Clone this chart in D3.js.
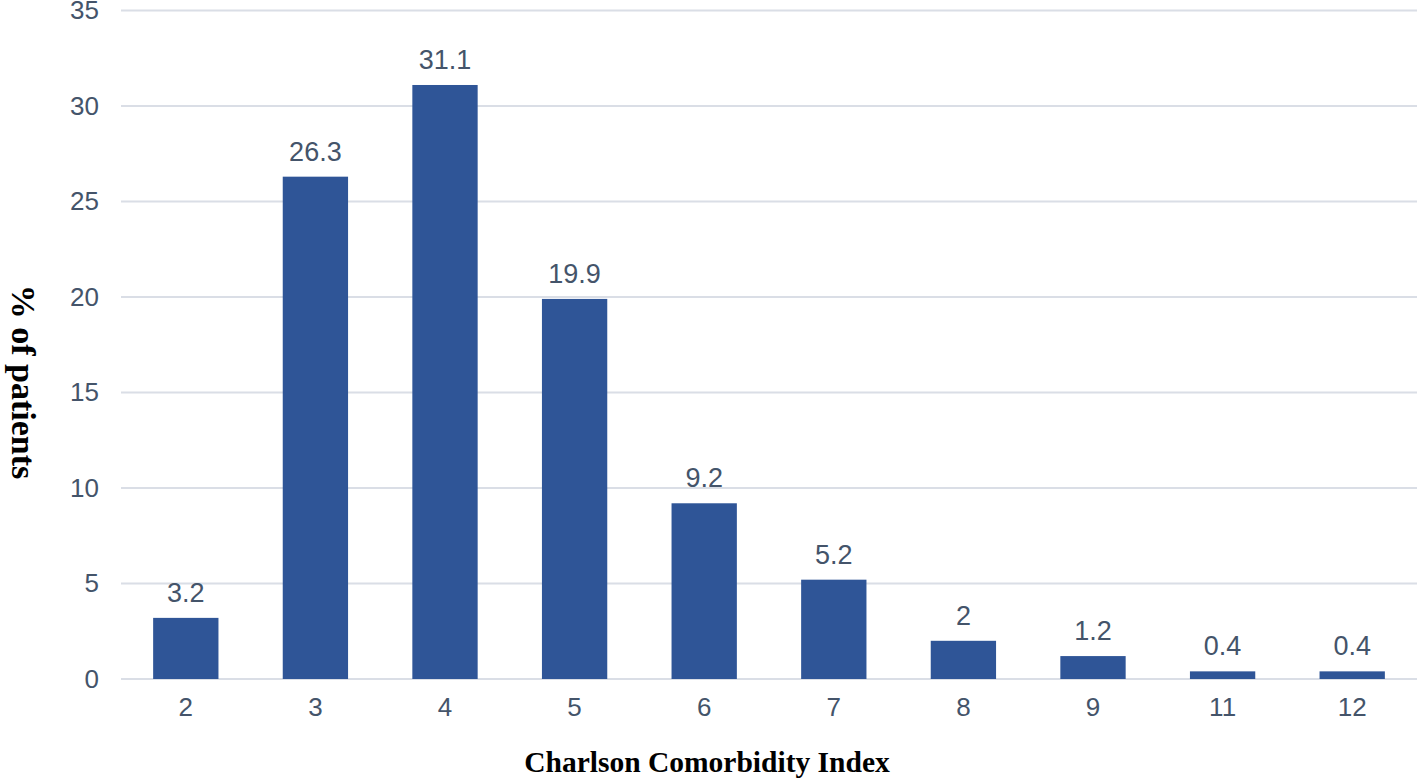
<!DOCTYPE html>
<html>
<head>
<meta charset="utf-8">
<script src="https://cdn.jsdelivr.net/npm/d3@7"></script>
<style>
  body { margin: 0; background: #fff; }
  svg { display: block; }
</style>
</head>
<body>
<svg id="chart" width="1417" height="779"></svg>
<script>
// Charlson Comorbidity Index distribution
var categories = ["2", "3", "4", "5", "6", "7", "8", "9", "11", "12"];
var percents = [3.2, 26.3, 31.1, 19.9, 9.2, 5.2, 2, 1.2, 0.4, 0.4];
var yTicks = [0, 5, 10, 15, 20, 25, 30, 35];

var W = 1417, H = 779;
var margin = { top: 10.5, right: 0, bottom: 100, left: 121 };
var textCol = "#44546A";
var sans = "'Liberation Sans', Arial, Helvetica, sans-serif";
var serif = "'Liberation Serif', 'Times New Roman', Times, serif";

var svg = d3.select("#chart");

var x = d3.scaleBand()
    .domain(categories)
    .range([margin.left, W - margin.right])
    .paddingInner(0.496)
    .paddingOuter(0.248);

var y = d3.scaleLinear()
    .domain([0, 35])
    .range([H - margin.bottom, margin.top]);

// gridlines
svg.append("g")
    .selectAll("line")
    .data(yTicks)
    .enter().append("line")
    .attr("x1", margin.left)
    .attr("x2", W - margin.right)
    .attr("y1", function (d) { return y(d); })
    .attr("y2", function (d) { return y(d); })
    .attr("stroke", "#DADEE6")
    .attr("stroke-width", 2.2);

// y tick labels
var yAxis = svg.append("g")
    .attr("transform", "translate(" + (margin.left - 22) + ",0)")
    .call(d3.axisLeft(y).tickValues(yTicks).tickSize(0).tickPadding(0));
yAxis.select(".domain").remove();
yAxis.selectAll("text")
    .attr("fill", textCol)
    .style("font-family", sans)
    .style("font-size", "26px");

// x tick labels
var xAxis = svg.append("g")
    .attr("transform", "translate(0," + y(0) + ")")
    .call(d3.axisBottom(x).tickSize(0).tickPadding(19));
xAxis.select(".domain").remove();
xAxis.selectAll("text")
    .attr("fill", textCol)
    .style("font-family", sans)
    .style("font-size", "26px");

// bars
svg.append("g")
    .selectAll("rect")
    .data(percents)
    .enter().append("rect")
    .attr("x", function (d, i) { return x(categories[i]); })
    .attr("width", x.bandwidth())
    .attr("y", function (d) { return y(d); })
    .attr("height", function (d) { return y(0) - y(d); })
    .attr("fill", "#2F5597");

// value labels
svg.append("g")
    .selectAll("text")
    .data(percents)
    .enter().append("text")
    .attr("x", function (d, i) { return x(categories[i]) + x.bandwidth() / 2; })
    .attr("y", function (d) { return y(d) - 16; })
    .attr("text-anchor", "middle")
    .attr("fill", textCol)
    .style("font-family", sans)
    .style("font-size", "27px")
    .text(function (d) { return d; });

// axis titles
svg.append("text")
    .attr("x", (margin.left + W) / 2 - 62)
    .attr("y", 772)
    .attr("text-anchor", "middle")
    .style("font-family", serif)
    .style("font-weight", "bold")
    .style("font-size", "29.5px")
    .text("Charlson Comorbidity Index");

svg.append("text")
    .attr("transform", "translate(12,382) rotate(90)")
    .attr("text-anchor", "middle")
    .style("font-family", serif)
    .style("font-weight", "bold")
    .style("font-size", "34px")
    .text("% of patients");
</script>
</body>
</html>
